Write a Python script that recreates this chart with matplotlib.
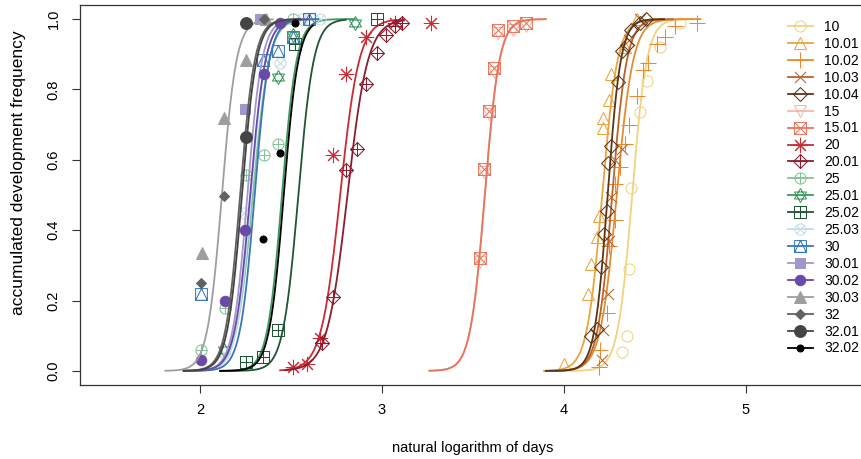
import numpy as np
import matplotlib
matplotlib.use("Agg")
import matplotlib.pyplot as plt
from matplotlib.path import Path
from matplotlib.lines import Line2D

plt.rcParams["font.family"] = ["Liberation Sans", "DejaVu Sans"]

# series as they appear in the legend
labels = ["10", "10.01", "10.02", "10.03", "10.04", "15", "15.01", "20", "20.01",
          "25", "25.01", "25.02", "25.03", "30", "30.01", "30.02", "30.03",
          "32", "32.01", "32.02"]
colors = ["#F2D27E", "#E8A540", "#E88B30", "#B7652A", "#5A3418", "#F4B7A7",
          "#E7745B", "#C92A33", "#8C1C2E", "#84C29A", "#3B9A5E", "#1F5535",
          "#C4DDEB", "#3878B8", "#A098CC", "#6A4AA8", "#9E9E9E", "#626262",
          "#444444", "#000000"]
pchs = [1, 2, 3, 4, 5, 6, 7, 8, 9, 10, 11, 12, 13, 14, 15, 16, 17, 18, 19, 20]

# logistic fit per series: midpoint, scale, and drawn range (ln days)
fit_mid = [4.375, 4.21, 4.29, 4.265, 4.24, 3.565, 3.565, 2.77, 2.81,
           2.29, 2.45, 2.54, 2.28, 2.30, 2.26, 2.275, 2.12, 2.22, 2.23, 2.46]
fit_scale = [0.04, 0.042, 0.045, 0.04, 0.036, 0.04, 0.04, 0.052, 0.056,
             0.045, 0.04, 0.042, 0.04, 0.04, 0.04, 0.042, 0.04, 0.04, 0.04, 0.04]
fit_lo = [3.93, 3.89, 3.95, 3.92, 3.90, 3.26, 3.26, 2.44, 2.47,
          1.91, 2.11, 2.12, 1.91, 1.92, 1.91, 1.91, 1.81, 1.91, 1.91, 2.11]
fit_hi = [4.70, 4.55, 4.75, 4.60, 4.55, 3.90, 3.90, 3.12, 3.12,
          2.65, 2.85, 2.80, 2.65, 2.65, 2.60, 2.60, 2.40, 2.55, 2.55, 2.62]

# observed points (ln days, accumulated frequency)
pts_x = [
    [4.32, 4.345, 4.36, 4.37, 4.42, 4.455, 4.53, 4.64],
    [4.0, 4.13, 4.15, 4.18, 4.19, 4.215, 4.215, 4.25, 4.26, 4.335, 4.40],
    [4.19, 4.20, 4.235, 4.25, 4.28, 4.28, 4.31, 4.335, 4.36, 4.40, 4.435, 4.46,
     4.51, 4.555, 4.61, 4.73],
    [4.21, 4.215, 4.24, 4.25, 4.26, 4.28, 4.32, 4.355, 4.42],
    [4.15, 4.18, 4.205, 4.22, 4.235, 4.24, 4.26, 4.295, 4.32, 4.345, 4.37, 4.42, 4.45],
    [3.54, 3.56, 3.59, 3.615, 3.64, 3.72, 3.79],
    [3.54, 3.56, 3.59, 3.615, 3.64, 3.72, 3.79],
    [2.51, 2.59, 2.66, 2.73, 2.80, 2.91, 3.07, 3.27],
    [2.67, 2.73, 2.80, 2.86, 2.91, 2.97, 3.02, 3.07, 3.11],
    [2.005, 2.135, 2.25, 2.35, 2.43, 2.51],
    [2.13, 2.43, 2.51, 2.85],
    [2.25, 2.345, 2.43, 2.52, 2.6, 2.97],
    [2.13, 2.24, 2.44, 2.56, 2.66],
    [2.005, 2.345, 2.43, 2.51, 2.6],
    [2.245, 2.33],
    [2.005, 2.135, 2.245, 2.35, 2.44],
    [2.01, 2.13, 2.25, 2.36],
    [2.005, 2.13, 2.35],
    [2.25, 2.25],
    [2.345, 2.44, 2.52],
]
pts_y = [
    [0.055, 0.10, 0.29, 0.52, 0.735, 0.825, 0.92, 0.99],
    [0.02, 0.22, 0.305, 0.38, 0.44, 0.69, 0.72, 0.77, 0.845, 0.92, 1.0],
    [0.01, 0.06, 0.165, 0.355, 0.43, 0.53, 0.58, 0.645, 0.70, 0.78, 0.855, 0.875,
     0.93, 0.95, 0.98, 0.99],
    [0.03, 0.115, 0.22, 0.37, 0.495, 0.60, 0.63, 0.94, 1.0],
    [0.10, 0.12, 0.295, 0.39, 0.455, 0.59, 0.64, 0.82, 0.91, 0.925, 0.97, 0.99, 1.0],
    [0.31, 0.565, 0.73, 0.85, 0.96, 0.97, 0.98],
    [0.32, 0.575, 0.74, 0.86, 0.97, 0.98, 0.99],
    [0.01, 0.02, 0.095, 0.615, 0.845, 0.95, 0.99, 0.99],
    [0.08, 0.21, 0.57, 0.63, 0.815, 0.905, 0.955, 0.98, 0.99],
    [0.06, 0.18, 0.557, 0.615, 0.645, 1.0],
    [0.06, 0.835, 0.955, 0.99],
    [0.026, 0.04, 0.115, 0.93, 1.0, 1.0],
    [0.05, 0.45, 0.875, 1.0, 1.0],
    [0.22, 0.885, 0.91, 0.95, 1.0],
    [0.745, 1.0],
    [0.03, 0.20, 0.40, 0.845, 0.99],
    [0.335, 0.72, 0.885, 1.0],
    [0.25, 0.497, 1.0],
    [0.665, 0.99],
    [0.375, 0.62, 0.99],
]

M, L, C = Path.MOVETO, Path.LINETO, Path.CLOSEPOLY


def compound(*parts):
    verts, codes = [], []
    for v, c in parts:
        verts += v
        codes += c
    return Path(verts, codes)


circ = Path.unit_circle()
CIRC = (list(map(tuple, circ.vertices)), list(circ.codes))
SQ = ([(-1, -1), (1, -1), (1, 1), (-1, 1), (-1, -1)], [M, L, L, L, C])
DIA = ([(0, -1), (1, 0), (0, 1), (-1, 0), (0, -1)], [M, L, L, L, C])
TUP = ([(0, 1), (-0.866, -0.5), (0.866, -0.5), (0, 1)], [M, L, L, C])
TDN = ([(0, -1), (-0.866, 0.5), (0.866, 0.5), (0, -1)], [M, L, L, C])
TSQ = ([(-1, -1), (1, -1), (0, 1), (-1, -1)], [M, L, L, C])
PLUS = ([(0, -1), (0, 1), (-1, 0), (1, 0)], [M, L, M, L])
CROSS = ([(-1, -1), (1, 1), (-1, 1), (1, -1)], [M, L, M, L])
CROSS_IN = ([(-0.707, -0.707), (0.707, 0.707), (-0.707, 0.707), (0.707, -0.707)],
            [M, L, M, L])

# pch -> (marker, size in pt, filled)
pch_style = {
    1: ("o", 8, False),
    2: ("^", 9, False),
    3: (compound(PLUS), 11, False),
    4: (compound(CROSS), 8, False),
    5: (compound(DIA), 10, False),
    6: ("v", 9, False),
    7: (compound(SQ, CROSS), 8.5, False),
    8: ((8, 2, 0), 11, False),
    9: (compound(DIA, PLUS), 10, False),
    10: (compound(CIRC, PLUS), 8, False),
    11: (compound(TUP, TDN), 10, False),
    12: (compound(SQ, PLUS), 8.5, False),
    13: (compound(CIRC, CROSS_IN), 8, False),
    14: (compound(SQ, TSQ), 8.5, False),
    15: ("s", 7, True),
    16: ("o", 7.5, True),
    17: ("^", 8, True),
    18: ("D", 5, True),
    19: ("o", 8.5, True),
    20: ("o", 5, True),
}


def marker_kw(pch, color):
    mk, ms, filled = pch_style[pch]
    return dict(marker=mk, markersize=ms, markeredgecolor=color,
                markerfacecolor=color if filled else "none", markeredgewidth=0.75)


fig = plt.figure(figsize=(8.62, 4.59), dpi=100)
ax = fig.add_axes([80 / 862, 74 / 459, 786 / 862, 380 / 459])

for lab, col, pch, m, s, lo, hi, px, py in zip(labels, colors, pchs, fit_mid, fit_scale,
                                                fit_lo, fit_hi, pts_x, pts_y):
    ax.plot(px, py, linestyle="none", **marker_kw(pch, col))
    xs = np.linspace(lo, hi, 300)
    ax.plot(xs, 1 / (1 + np.exp(-(xs - m) / s)), color=col, lw=1.3)

ax.set_xlim(1.34, 5.66)
ax.set_ylim(-0.04, 1.04)
ax.set_xticks([2, 3, 4, 5])
ax.set_yticks([0, 0.2, 0.4, 0.6, 0.8, 1.0])
ax.set_yticklabels(["0.0", "0.2", "0.4", "0.6", "0.8", "1.0"], rotation=90, va="center")
ax.tick_params(length=6, width=0.8, labelsize=10.5, color="#333333")
ax.tick_params(axis="x", pad=7)
ax.tick_params(axis="y", pad=8)
for sp in ax.spines.values():
    sp.set_linewidth(0.9)
    sp.set_color("#333333")

ax.set_xlabel("natural logarithm of days", fontsize=10.5, labelpad=17)
ax.set_ylabel("accumulated development frequency", fontsize=12.5)
ax.yaxis.set_label_coords(-54 / 786, 0.56)

handles = [Line2D([], [], color=c, lw=1.3, **marker_kw(p, c)) for c, p in zip(colors, pchs)]
ax.legend(handles, labels, loc="upper left", bbox_to_anchor=(788 / 862, 1 - 20 / 459),
          bbox_transform=fig.transFigure, frameon=False, fontsize=10,
          handlelength=1.8, handletextpad=0.8, labelspacing=0.21,
          borderpad=0, borderaxespad=0)

fig.savefig("out.png", dpi=100)
